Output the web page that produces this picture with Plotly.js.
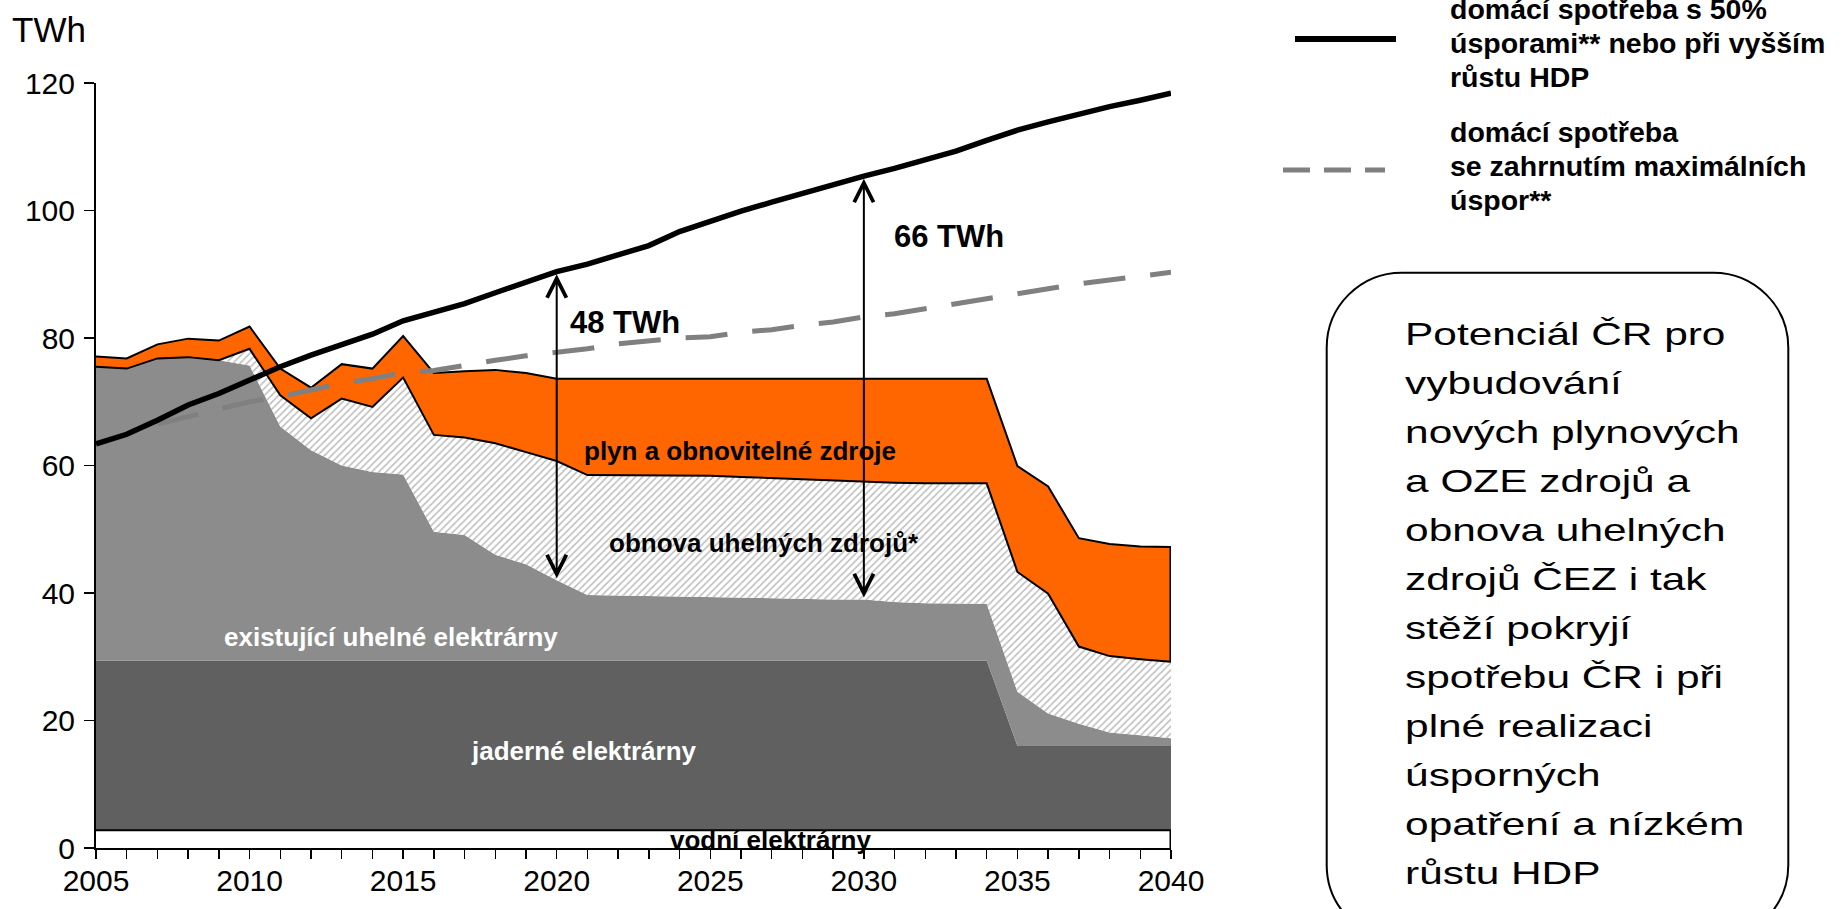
<!DOCTYPE html>
<html>
<head>
<meta charset="utf-8">
<script src="https://cdn.plot.ly/plotly-3.0.1.min.js"></script>
<style>
  html, body { margin: 0; padding: 0; background: #ffffff; overflow: hidden; }
  #chart { width: 1843px; height: 909px; }
</style>
</head>
<body>
<div id="chart"></div>
<script>
// ---- data (TWh) ----
const years = [2005, 2006, 2007, 2008, 2009, 2010, 2011, 2012, 2013, 2014,
               2015, 2016, 2017, 2018, 2019, 2020, 2021, 2022, 2023, 2024,
               2025, 2026, 2027, 2028, 2029, 2030, 2031, 2032, 2033, 2034,
               2035, 2036, 2037, 2038, 2039, 2040];

// upper boundary of each stacked layer
const hydroTop = [2.8, 2.8, 2.8, 2.8, 2.8, 2.8, 2.8, 2.8, 2.8, 2.8,
                  2.8, 2.8, 2.8, 2.8, 2.8, 2.8, 2.8, 2.8, 2.8, 2.8,
                  2.8, 2.8, 2.8, 2.8, 2.8, 2.8, 2.8, 2.8, 2.8, 2.8,
                  2.8, 2.8, 2.8, 2.8, 2.8, 2.8];
const nuclearTop = [29.4, 29.4, 29.4, 29.4, 29.4, 29.4, 29.4, 29.4, 29.4, 29.4,
                    29.4, 29.4, 29.4, 29.4, 29.4, 29.4, 29.4, 29.4, 29.4, 29.4,
                    29.4, 29.4, 29.4, 29.4, 29.4, 29.4, 29.4, 29.4, 29.4, 29.4,
                    16.0, 16.0, 16.0, 16.0, 16.0, 16.0];
const existingCoalTop = [75.5, 75.2, 76.8, 77.0, 76.5, 75.7, 66.1, 62.4, 60.0, 59.0,
                         58.6, 49.6, 49.1, 46.0, 44.5, 42.0, 39.7, 39.6, 39.5, 39.4,
                         39.4, 39.3, 39.2, 39.1, 39.0, 39.0, 38.6, 38.4, 38.3, 38.3,
                         24.5, 21.1, 19.5, 18.1, 17.7, 17.2];
const coalRenewalTop = [75.5, 75.2, 76.8, 77.0, 76.5, 78.3, 71.0, 67.4, 70.5, 69.2,
                        73.8, 64.8, 64.4, 63.5, 62.1, 60.7, 58.5, 58.5, 58.5, 58.5,
                        58.4, 58.2, 58.0, 57.8, 57.7, 57.5, 57.3, 57.2, 57.2, 57.2,
                        43.3, 39.9, 31.6, 30.1, 29.6, 29.2];
const gasRenewablesTop = [77.1, 76.8, 79.0, 79.9, 79.6, 81.8, 75.2, 72.2, 75.9, 75.2,
                          80.3, 74.5, 74.8, 75.0, 74.5, 73.6, 73.6, 73.6, 73.6, 73.6,
                          73.6, 73.6, 73.6, 73.6, 73.6, 73.6, 73.6, 73.6, 73.6, 73.6,
                          59.9, 56.7, 48.6, 47.7, 47.3, 47.2];

// domestic consumption scenarios
const demandHigh = [63.4, 64.9, 67.1, 69.5, 71.3, 73.4, 75.5, 77.3, 78.9, 80.6,
                    82.7, 84.1, 85.4, 87.1, 88.8, 90.4, 91.6, 93.0, 94.5, 96.7,
                    98.4, 99.9, 101.3, 102.7, 104.0, 105.4, 106.6, 108.0, 109.3, 111.0,
                    112.6, 113.9, 115.2, 116.3, 117.3, 118.4];
const demandLow = [null, null, 66.5, 67.7, 68.7, 70.0, 70.8, 71.8, 72.9, 73.6,
                   74.6, 74.9, 75.8, 76.5, 77.2, 77.8, 78.3, 79.1, 79.5, 80.0,
                   80.2, 80.9, 81.3, 82.0, 82.5, 83.3, 83.8, 84.6, 85.3, 86.2,
                   86.8, 87.7, 88.5, 89.1, 89.7, 90.3];

// gap between high-consumption line and existing sources
const gapYears = [2020, 2030];
const gapValues = [48, 66];
const gapLabels = ['48 TWh', '66 TWh'];

const labeledYears = [2005, 2010, 2015, 2020, 2025, 2030, 2035, 2040];
const yTicks = [0, 20, 40, 60, 80, 100, 120];

// legend wording
const legendHigh = ['domácí spotřeba s 50%', 'úsporami** nebo při vyšším', 'růstu HDP'];
const legendLow = ['domácí spotřeba', 'se zahrnutím maximálních', 'úspor**'];

// ---- page geometry ----
const W = 1843, H = 909;
const M = { l: 96, r: 672, t: 83, b: 61 };
const PW = W - M.l - M.r, PH = H - M.t - M.b;
const px = x => (x - M.l) / PW;          // pixel -> paper x
const py = y => (H - M.b - y) / PH;      // pixel -> paper y

const FONT = "'Liberation Sans', Arial, sans-serif";
const ORANGE = '#ff6600';
const last = a => a[a.length - 1];

// ---- traces ----
const traces = [
  { x: years, y: hydroTop, type: 'scatter', mode: 'lines', fill: 'tozeroy',
    fillcolor: '#ffffff', line: { color: '#000000', width: 2 } },
  { x: years, y: nuclearTop, type: 'scatter', mode: 'lines', fill: 'tonexty',
    fillcolor: '#606060', line: { width: 0 } },
  { x: years, y: existingCoalTop, type: 'scatter', mode: 'lines', fill: 'tonexty',
    fillcolor: '#8c8c8c', line: { width: 0 } },
  { x: years, y: coalRenewalTop, type: 'scatter', mode: 'lines', fill: 'tonexty',
    fillcolor: '#ffffff',
    fillpattern: { shape: '/', bgcolor: '#ffffff', fgcolor: '#bdbdbd', size: 5, solidity: 0.3 },
    line: { color: '#000000', width: 2 } },
  { x: years, y: gasRenewablesTop, type: 'scatter', mode: 'lines', fill: 'tonexty',
    fillcolor: ORANGE, line: { color: '#000000', width: 2 } },
  // closing edges at the last year
  { x: [last(years), last(years)], y: [last(coalRenewalTop), last(gasRenewablesTop)],
    type: 'scatter', mode: 'lines', line: { color: '#000000', width: 3 } },
  { x: [last(years), last(years)], y: [0, last(hydroTop)],
    type: 'scatter', mode: 'lines', line: { color: '#000000', width: 3 } },
  // consumption lines
  { x: years, y: demandLow, type: 'scatter', mode: 'lines',
    line: { color: '#808080', width: 5, dash: '42px,25px' } },
  { x: years, y: demandHigh, type: 'scatter', mode: 'lines',
    line: { color: '#000000', width: 5.5 } }
];

// ---- annotations ----
const annotations = [];

// axis unit
annotations.push({ xref: 'paper', yref: 'paper', x: px(10), y: py(29), xanchor: 'left', yanchor: 'middle',
  text: 'TWh', showarrow: false, font: { family: FONT, size: 35, color: '#000000' } });

// area labels
const areaLabels = [
  { text: 'plyn a obnovitelné zdroje', x: 2025.97, y: 62.2, color: '#000000' },
  { text: 'obnova uhelných zdrojů*', x: 2026.75, y: 47.8, color: '#000000' },
  { text: 'existující uhelné elektrárny', x: 2014.6, y: 33.1, color: '#ffffff' },
  { text: 'jaderné elektrárny', x: 2020.9, y: 15.2, color: '#ffffff' },
  { text: 'vodní elektrárny', x: 2026.95, y: 1.2, color: '#000000' }
];
areaLabels.forEach(l => annotations.push({
  xref: 'x', yref: 'y', x: l.x, y: l.y, xanchor: 'center', yanchor: 'middle',
  text: '<b>' + l.text + '</b>', showarrow: false,
  font: { family: FONT, size: 26, color: l.color }
}));

// double arrows showing the gap
gapYears.forEach((yr, i) => {
  const base = existingCoalTop[years.indexOf(yr)];
  annotations.push({
    xref: 'x', yref: 'y', axref: 'x', ayref: 'y',
    x: yr, y: base + gapValues[i], ax: yr, ay: base,
    text: ' ', font: { size: 1 }, showarrow: true,
    arrowhead: 5, startarrowhead: 5, arrowside: 'end+start',
    arrowsize: 1.9, startarrowsize: 1.9, arrowwidth: 2, arrowcolor: '#000000',
    standoff: 0, startstandoff: 0
  });
});
const gapLabelPos = [{ x: 2020.38, y: 82.5 }, { x: 2030.91, y: 96.0 }];
gapLabels.forEach((t, i) => annotations.push({
  xref: 'x', yref: 'y', x: gapLabelPos[i].x, y: gapLabelPos[i].y, xanchor: 'left', yanchor: 'middle',
  text: '<b>' + t + '</b>', showarrow: false, font: { family: FONT, size: 31, color: '#000000' }
}));

// legend texts, one line each
const LEGEND_PITCH = 34;
[[legendHigh, 43], [legendLow, 165.7]].forEach(([lines, mid]) => {
  lines.forEach((t, i) => annotations.push({
    xref: 'paper', yref: 'paper', x: px(1448), y: py(mid + (i - 1) * LEGEND_PITCH),
    xanchor: 'left', yanchor: 'middle', showarrow: false,
    font: { family: FONT, size: 28.5, color: '#000000' }, text: '<b>' + t + '</b>'
  }));
});

// note inside the rounded box
const noteLines = ['Potenciál ČR pro', 'vybudování', 'nových plynových', 'a OZE zdrojů a',
  'obnova uhelných', 'zdrojů ČEZ i tak', 'stěží pokryjí', 'spotřebu ČR i při',
  'plné realizaci', 'úsporných', 'opatření a nízkém', 'růstu HDP'];
const NOTE_SIZE = 30.5, NOTE_STRETCH = 1.39;
const noteIdx = new Set();
noteLines.forEach((t, i) => {
  const baseline = 345 + 49 * i;
  noteIdx.add(annotations.length);
  annotations.push({ xref: 'paper', yref: 'paper', x: px(1404), y: py(baseline - 0.3465 * NOTE_SIZE),
    xanchor: 'left', yanchor: 'middle', showarrow: false, borderpad: 0,
    font: { family: FONT, size: NOTE_SIZE, color: '#000000' }, text: t });
});

// ---- shapes: rounded note box and legend samples ----
function roundedBox(L, T, R, B, r) {
  const k = 0.5523 * r;
  const P = (x, y) => px(x) + ',' + py(y);
  return 'M' + P(L, T + r) +
    ' C' + P(L, T + r - k) + ' ' + P(L + r - k, T) + ' ' + P(L + r, T) +
    ' L' + P(R - r, T) +
    ' C' + P(R - r + k, T) + ' ' + P(R, T + r - k) + ' ' + P(R, T + r) +
    ' L' + P(R, B - r) +
    ' C' + P(R, B - r + k) + ' ' + P(R - r + k, B) + ' ' + P(R - r, B) +
    ' L' + P(L + r, B) +
    ' C' + P(L + r - k, B) + ' ' + P(L, B - r + k) + ' ' + P(L, B - r) + ' Z';
}
const shapes = [
  { type: 'path', xref: 'paper', yref: 'paper', path: roundedBox(1326.7, 272.7, 1788.3, 940, 75),
    line: { color: '#000000', width: 2 }, fillcolor: 'rgba(0,0,0,0)', layer: 'above' },
  { type: 'line', xref: 'paper', yref: 'paper', x0: px(1295), x1: px(1396), y0: py(39), y1: py(39),
    line: { color: '#000000', width: 6 } },
  { type: 'line', xref: 'paper', yref: 'paper', x0: px(1283), x1: px(1385), y0: py(170), y1: py(170),
    line: { color: '#808080', width: 5, dash: '27px,14px' } }
];

// ---- layout ----
const layout = {
  width: W, height: H,
  margin: M,
  paper_bgcolor: '#ffffff', plot_bgcolor: '#ffffff',
  showlegend: false, hovermode: false,
  font: { family: FONT, color: '#000000' },
  xaxis: {
    range: [2005, 2040], fixedrange: true,
    tickmode: 'array', tickvals: years,
    ticktext: years.map(y => labeledYears.includes(y) ? String(y) : ''),
    ticks: 'outside', ticklen: 9, tickwidth: 1.5, tickcolor: '#000000',
    tickfont: { family: FONT, size: 30, color: '#000000' }, ticklabelstandoff: -4,
    showline: true, linecolor: '#000000', linewidth: 2,
    showgrid: false, zeroline: false
  },
  yaxis: {
    range: [0, 120], fixedrange: true,
    tickmode: 'array', tickvals: yTicks, ticktext: yTicks.map(String),
    ticks: 'outside', ticklen: 10, tickwidth: 1.5, tickcolor: '#000000',
    tickfont: { family: FONT, size: 30, color: '#000000' }, ticklabelstandoff: 3,
    showline: true, linecolor: '#000000', linewidth: 2,
    showgrid: false, zeroline: false
  },
  annotations: annotations,
  shapes: shapes
};

Plotly.newPlot('chart', traces, layout, { staticPlot: true, displayModeBar: false, responsive: false })
  .then(function (gd) {
    // the note text is set in a horizontally widened face
    gd.querySelectorAll('g.annotation').forEach(function (g) {
      const idx = +g.getAttribute('data-index');
      if (!noteIdx.has(idx)) return;
      const t = g.querySelector('text.annotation-text');
      if (!t) return;
      const bb = t.getBBox();
      t.setAttribute('transform', 'translate(' + (bb.x * (1 - NOTE_STRETCH)) + ',0) scale(' + NOTE_STRETCH + ',1)');
    });
  });
</script>
</body>
</html>
